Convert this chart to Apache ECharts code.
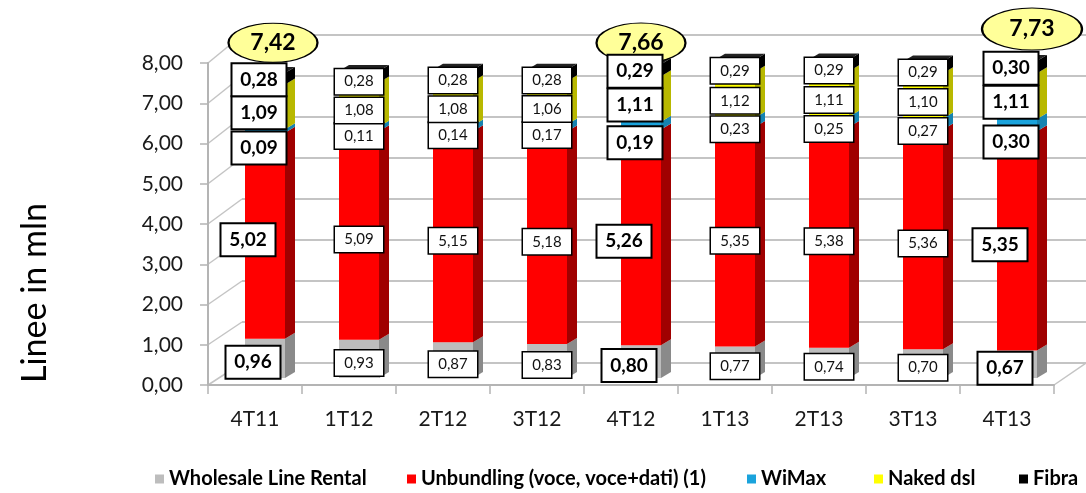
<!DOCTYPE html>
<html>
<head>
<meta charset="utf-8">
<script src="https://cdn.jsdelivr.net/npm/echarts@6/dist/echarts.min.js"></script>
<style>
  html, body { margin: 0; padding: 0; background: #fff; }
  #chart { width: 1086px; height: 493px; }
</style>
</head>
<body>
<div id="chart"></div>
<script>
// dati (milioni di linee)
const categories = ['4T11', '1T12', '2T12', '3T12', '4T12', '1T13', '2T13', '3T13', '4T13'];
const wholesale  = [0.96, 0.93, 0.87, 0.83, 0.80, 0.77, 0.74, 0.70, 0.67];
const unbundling = [5.02, 5.09, 5.15, 5.18, 5.26, 5.35, 5.38, 5.36, 5.35];
const wimax      = [0.09, 0.11, 0.14, 0.17, 0.19, 0.23, 0.25, 0.27, 0.30];
const nakedDsl   = [1.09, 1.08, 1.08, 1.06, 1.11, 1.12, 1.11, 1.10, 1.11];
const fibra      = [0.28, 0.28, 0.28, 0.28, 0.29, 0.29, 0.29, 0.29, 0.30];
const totals     = [7.42, null, null, null, 7.66, null, null, null, 7.73];
const yTicks     = [0, 1, 2, 3, 4, 5, 6, 7, 8];
const boldCols   = [0, 4, 8];

const FONT = 'Lato, "Liberation Sans", sans-serif';
const BAR_W = 40, DX = 10, DY = -6;
const BACK = { left: 242, right: 0, top: 35, bottom: 130 };
const H = 493;

const fmt = v => v.toFixed(2).replace('.', ',');

const series = [
  { name: 'Wholesale Line Rental', data: wholesale, color: '#bdbdbd', side: '#8a8a8a', dx: [0, 4], dxB: [-12, 4] },
  { name: 'Unbundling (voce, voce+dati) (1)', data: unbundling, color: '#ff0000', side: '#a00000', dx: [0, 4], dxB: [-17, 4] },
  { name: 'WiMax', data: wimax, color: '#1aa3dc', side: '#1683b0', dx: [0, 7], dxB: [-6, 17] },
  { name: 'Naked dsl', data: nakedDsl, color: '#ffff00', side: '#b8b800', dx: [0, 6], dxB: [-6, 6] },
  { name: 'Fibra', data: fibra, color: '#000000', side: '#000000', dx: [0, 5], dxB: [-6, 1] }
];

// etichette: box bianco con bordo nero
const labelNormal = off => ({
  show: true, position: 'inside', offset: off,
  formatter: p => fmt(p.value),
  color: '#111', fontFamily: FONT, fontSize: 15,
  backgroundColor: '#fff', borderColor: '#000', borderWidth: 1.5,
  width: 40, lineHeight: 18, padding: [4, 4, 3, 4], align: 'center'
});
const labelBold = off => ({
  show: true, position: 'inside', offset: off,
  formatter: p => fmt(p.value),
  color: '#000', fontFamily: FONT, fontSize: 19, fontWeight: 'bold',
  backgroundColor: '#fff', borderColor: '#000', borderWidth: 2,
  width: 45, lineHeight: 22, padding: [5, 4, 4, 4], align: 'center'
});

const barSeries = series.map(s => ({
  name: s.name, type: 'bar', stack: 'tot', xAxisIndex: 1, yAxisIndex: 1,
  barWidth: BAR_W, z: 2,
  itemStyle: { color: s.color },
  data: s.data.map((v, i) => ({
    value: v,
    label: boldCols.includes(i) ? labelBold(s.dxB) : labelNormal(s.dx)
  }))
}));

// facce laterali 3D
const sideData = [];
series.forEach((s, si) => {
  s.data.forEach((v, i) => {
    let base = 0;
    for (let k = 0; k < si; k++) base += series[k].data[i];
    sideData.push([i, base, base + v, si]);
  });
});

const sideSeries = {
  type: 'custom', xAxisIndex: 1, yAxisIndex: 1, z: 1, silent: true,
  encode: { x: 0, y: 2 },
  data: sideData,
  renderItem: (params, api) => {
    const i = api.value(0), b = api.value(1), t = api.value(2), si = api.value(3);
    const p0 = api.coord([i, b]), p1 = api.coord([i, t]);
    const xl = p0[0] - BAR_W / 2, xr = p0[0] + BAR_W / 2;
    const kids = [{
      type: 'polygon',
      shape: { points: [[xr, p0[1]], [xr + DX, p0[1] + DY], [xr + DX, p1[1] + DY], [xr, p1[1]]] },
      style: { fill: series[si].side }
    }];
    if (si === series.length - 1) {
      kids.push({
        type: 'polygon',
        shape: { points: [[xl, p1[1]], [xl + DX, p1[1] + DY], [xr + DX, p1[1] + DY], [xr, p1[1]]] },
        style: { fill: '#222' }
      });
    }
    return { type: 'group', children: kids };
  }
};

// linee prospettiche parete/pavimento
const wallSeries = {
  type: 'custom', xAxisIndex: 0, yAxisIndex: 0, z: 0, silent: true,
  data: yTicks.map(v => [0, v]),
  encode: { x: 0, y: 1 },
  renderItem: (params, api) => {
    const v = api.value(1);
    const cs = params.coordSys;
    const y = api.coord([0, v])[1];
    const by = BACK.top + (1 - v / 8) * (H - BACK.top - BACK.bottom);
    const st = { stroke: '#c4c4c4', lineWidth: 1.5 };
    const kids = [{ type: 'line', shape: { x1: cs.x, y1: y, x2: BACK.left, y2: by }, style: st }];
    if (v === 0) {
      kids.push({ type: 'line', shape: { x1: cs.x + cs.width, y1: y, x2: 1086, y2: by }, style: st });
    }
    return { type: 'group', children: kids };
  }
};

const ellipseStyle = [
  { off: [8, -31], size: [89, 39] },
  null, null, null,
  { off: [0, -21], size: [89, 40] },
  null, null, null,
  { off: [15, -32], size: [100, 42] }
];
const totalSeries = {
  type: 'scatter', xAxisIndex: 1, yAxisIndex: 1, z: 1, silent: true,
  symbol: 'circle',
  itemStyle: { color: '#ffff99', borderColor: '#000', borderWidth: 1.5, opacity: 1 },
  data: totals.map((v, i) => v == null ? null : {
    value: v,
    symbolSize: ellipseStyle[i].size,
    symbolOffset: ellipseStyle[i].off,
    label: {
      show: true, position: 'inside',
      formatter: p => fmt(p.value),
      color: '#000', fontFamily: FONT, fontSize: 23, fontWeight: 'bold'
    }
  })
};

// legenda: una per voce, posizionate come nell'originale
const legendLeft = [155, 407, 747, 874, 1019];

const option = {
  animation: false,
  backgroundColor: '#fff',
  grid: [
    { left: 208, right: 32, top: 63, bottom: 108 },
    { left: 218, right: 22, top: 50, bottom: 115 },
    { left: BACK.left, right: BACK.right, top: BACK.top, bottom: BACK.bottom }
  ],
  xAxis: [
    {
      gridIndex: 0, type: 'category', data: categories,
      axisLine: { lineStyle: { color: '#b4b4b4', width: 2 } },
      axisTick: { show: true, length: 9, lineStyle: { color: '#b4b4b4', width: 1.5 } },
      axisLabel: { color: '#1a1a1a', fontFamily: FONT, fontSize: 21, margin: 24 }
    },
    { gridIndex: 1, type: 'category', data: categories, show: false },
    { gridIndex: 2, type: 'value', min: 0, max: 1, show: false }
  ],
  yAxis: [
    {
      gridIndex: 0, type: 'value', min: 0, max: 8, interval: 1,
      axisLine: { show: true, lineStyle: { color: '#b4b4b4', width: 2 } },
      axisTick: { show: true, length: 8, lineStyle: { color: '#b4b4b4', width: 1.5 } },
      splitLine: { show: false },
      axisLabel: { color: '#1a1a1a', fontFamily: FONT, fontSize: 21, margin: 25, formatter: v => fmt(v) }
    },
    { gridIndex: 1, type: 'value', min: 0, max: 8, interval: 1, show: false, splitLine: { show: false } },
    {
      gridIndex: 2, type: 'value', min: 0, max: 8, interval: 1,
      axisLine: { show: false }, axisTick: { show: false }, axisLabel: { show: false },
      splitLine: { show: true, lineStyle: { color: '#c4c4c4', width: 2 } }
    }
  ],
  legend: series.map((s, k) => ({
    left: legendLeft[k], top: 469, padding: 0, itemWidth: 9, itemHeight: 9,
    icon: 'rect', selectedMode: false,
    textStyle: { fontFamily: FONT, fontSize: 20, fontWeight: 'bold', color: '#000' },
    data: [s.name]
  })),
  graphic: [{
    type: 'text', left: 18, top: 203, rotation: Math.PI / 2,
    style: { text: 'Linee in mln', fontFamily: FONT, fontSize: 34, fill: '#000' }
  }],
  series: [wallSeries, sideSeries, totalSeries].concat(barSeries)
};

const chart = echarts.init(document.getElementById('chart'));
chart.setOption(option);
</script>
</body>
</html>
